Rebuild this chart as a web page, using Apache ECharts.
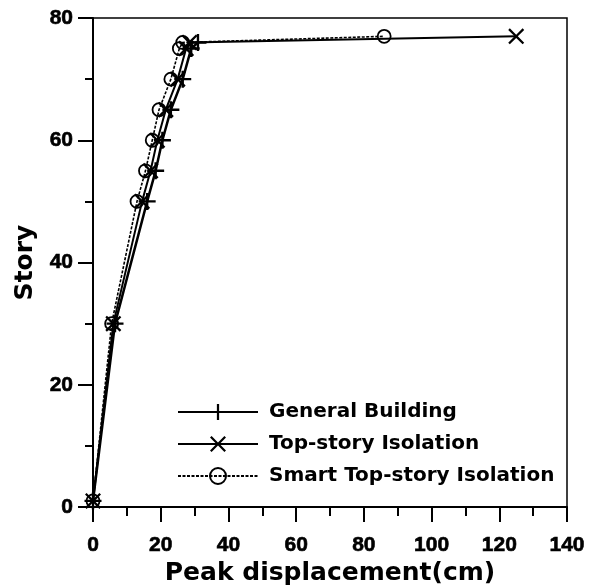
<!DOCTYPE html>
<html>
<head>
<meta charset="utf-8">
<script src="https://cdn.jsdelivr.net/npm/echarts@6/dist/echarts.min.js"></script>
<style>
  html, body { margin: 0; padding: 0; background: #fff; }
  #chart { width: 600px; height: 586px; }
</style>
</head>
<body>
<div id="chart"></div>
<script>
// peak displacement (cm) vs story
var generalBuilding = [[0, 1], [6.5, 30], [16, 50], [18.5, 55], [20.5, 60], [23, 65], [26.5, 70], [29, 75], [31, 76]];
var topStoryIsolation = [[0, 1], [6, 30], [14.5, 50], [17, 55], [19, 60], [21.5, 65], [25, 70], [27.5, 75], [28.5, 76], [125, 77]];
var smartIsolation = [[0, 1], [5.5, 30], [13, 50], [15.5, 55], [17.5, 60], [19.5, 65], [23, 70], [25.5, 75], [26.5, 76], [86, 77]];
var seriesNames = ['General Building', 'Top-story Isolation', 'Smart Top-story Isolation'];

var plusPath = 'path://M-1.4,-10H1.4V-1.4H10V1.4H1.4V10H-1.4V1.4H-10V-1.4H-1.4Z';
var crossPath = 'path://M-10,-8L-8,-10L0,-2L8,-10L10,-8L2,0L10,8L8,10L0,2L-8,10L-10,8L-2,0Z';
var tickFont = 'Arial, sans-serif';
var titleFont = "'DejaVu Sans', sans-serif";

var myChart = echarts.init(document.getElementById('chart'));

var option = {
    backgroundColor: '#fff',
    animation: false,
    grid: {
        left: 93,
        right: 33,
        top: 18,
        bottom: 79,
        outerBoundsMode: 'none',
        show: true,
        borderColor: '#000',
        borderWidth: 1.5,
        backgroundColor: 'transparent'
    },
    legend: {
        orient: 'vertical',
        left: 172,
        top: 397,
        itemWidth: 80,
        itemHeight: 20,
        itemGap: 12,
        data: seriesNames,
        textStyle: {
            color: '#000',
            fontFamily: titleFont,
            fontWeight: 'bold',
            fontSize: 20,
            padding: [0, 0, 0, 6]
        }
    },
    xAxis: {
        type: 'value',
        min: 0,
        max: 140,
        interval: 20,
        name: 'Peak displacement(cm)',
        nameLocation: 'middle',
        nameGap: 49,
        nameTextStyle: { color: '#000', fontFamily: titleFont, fontWeight: 'bold', fontSize: 25 },
        axisLine: { lineStyle: { color: '#000', width: 2 } },
        axisTick: { inside: false, length: 15, lineStyle: { color: '#000', width: 2 } },
        minorTick: { show: true, splitNumber: 2, length: 9, lineStyle: { color: '#000', width: 2 } },
        axisLabel: {
            color: '#000', fontFamily: tickFont, fontWeight: 'bold', fontSize: 21, margin: 28,
            textBorderColor: '#000', textBorderWidth: 0.6
        },
        splitLine: { show: false }
    },
    yAxis: {
        type: 'value',
        min: 0,
        max: 80,
        interval: 20,
        name: 'Story',
        nameLocation: 'middle',
        nameGap: 50,
        nameTextStyle: { color: '#000', fontFamily: titleFont, fontWeight: 'bold', fontSize: 25 },
        axisLine: { lineStyle: { color: '#000', width: 2 } },
        axisTick: { inside: false, length: 15, lineStyle: { color: '#000', width: 2 } },
        minorTick: { show: true, splitNumber: 2, length: 8, lineStyle: { color: '#000', width: 2 } },
        axisLabel: {
            color: '#000', fontFamily: tickFont, fontWeight: 'bold', fontSize: 21, margin: 20,
            textBorderColor: '#000', textBorderWidth: 0.6
        },
        splitLine: { show: false }
    },
    series: [
        {
            name: seriesNames[0],
            type: 'line',
            data: generalBuilding,
            symbol: plusPath,
            symbolSize: 17,
            lineStyle: { color: '#000', width: 2.5 },
            itemStyle: { color: '#000' },
            z: 3
        },
        {
            name: seriesNames[1],
            type: 'line',
            data: topStoryIsolation,
            symbol: crossPath,
            symbolSize: 16,
            lineStyle: { color: '#000', width: 2 },
            itemStyle: { color: '#000' },
            z: 2
        },
        {
            name: seriesNames[2],
            type: 'line',
            data: smartIsolation,
            symbol: 'circle',
            symbolSize: 13,
            lineStyle: { color: '#000', width: 1.6, type: [3, 1.5] },
            itemStyle: { color: 'rgba(0,0,0,0)', borderColor: '#000', borderWidth: 1.8 },
            z: 4
        }
    ]
};
myChart.setOption(option);
</script>
</body>
</html>
